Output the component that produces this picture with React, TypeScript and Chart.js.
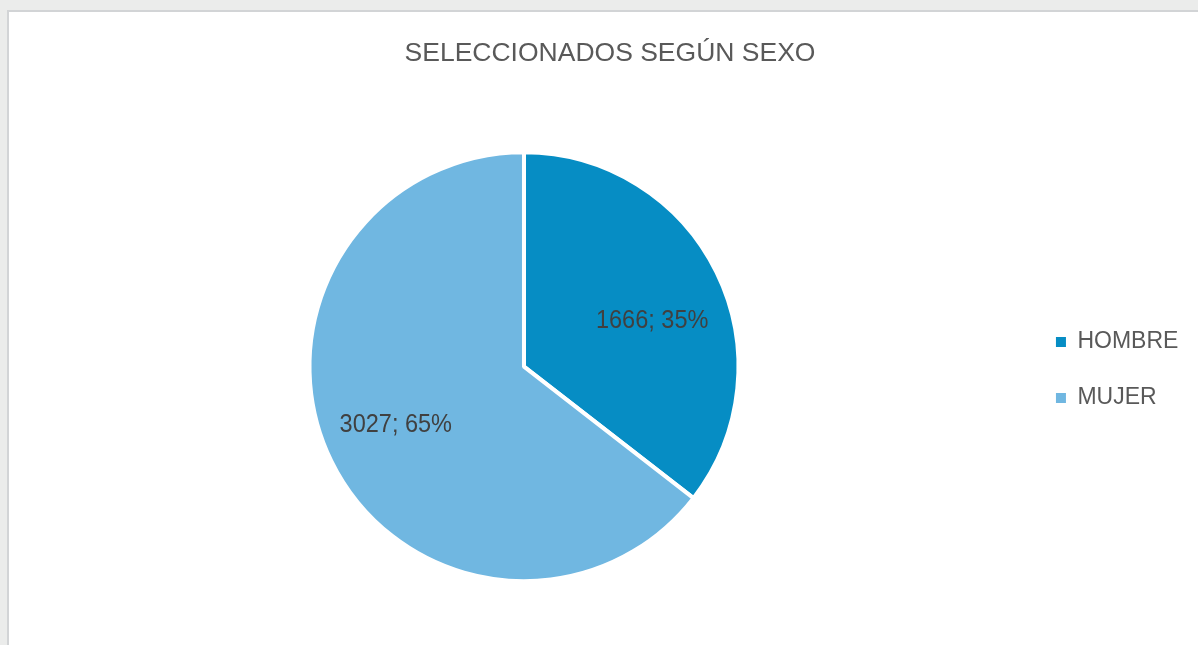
import React, { useEffect, useRef } from 'react';
import { Chart, registerables } from 'chart.js';

Chart.register(...registerables);

const categories = ['HOMBRE', 'MUJER'];
const values = [1666, 3027];
const sliceColors = ['#068dc4', '#70b7e1'];
const chartTitle = 'SELECCIONADOS SEGÚN SEXO';

const FONT = '"Liberation Sans", Arial, sans-serif';
const LABEL_SIZE = 25;

const sliceLabelPlugin = {
  id: 'sliceLabels',
  afterDatasetsDraw(chart: any) {
    const ctx = chart.ctx;
    const meta = chart.getDatasetMeta(0);
    const data = chart.data.datasets[0].data as number[];
    const total = data.reduce((a: number, b: number) => a + b, 0);
    ctx.save();
    ctx.fillStyle = '#404040';
    ctx.font = `${LABEL_SIZE}px ${FONT}`;
    ctx.textAlign = 'center';
    ctx.textBaseline = 'middle';
    meta.data.forEach((arc: any, i: number) => {
      const p = arc.getProps(['x', 'y', 'startAngle', 'endAngle', 'outerRadius'], true);
      const mid = (p.startAngle + p.endAngle) / 2 + (4 * Math.PI) / 180;
      const r = p.outerRadius * 0.645;
      const lx = p.x + Math.cos(mid) * r;
      const ly = p.y + Math.sin(mid) * r + LABEL_SIZE * 0.26;
      const text = `${data[i]}; ${Math.round((data[i] / total) * 100)}%`;
      ctx.save();
      ctx.translate(lx, ly);
      ctx.scale(0.94, 1);
      ctx.fillText(text, 0, 0);
      ctx.restore();
    });
    ctx.restore();
  },
};

export default function App() {
  const canvasRef = useRef<HTMLCanvasElement | null>(null);

  useEffect(() => {
    if (!canvasRef.current) return;
    const chart = new Chart(canvasRef.current, {
      type: 'pie',
      data: {
        labels: categories,
        datasets: [
          {
            data: values,
            backgroundColor: sliceColors,
            borderColor: '#ffffff',
            borderWidth: 4,
            hoverOffset: 0,
          },
        ],
      },
      options: {
        responsive: false,
        animation: false,
        events: [],
        layout: {
          padding: { left: 31.6, right: 9.6, top: 0, bottom: 61.8 },
        },
        plugins: {
          tooltip: { enabled: false },
          title: {
            display: true,
            text: chartTitle,
            color: '#595959',
            font: { family: FONT, size: 26.5, weight: 'normal', lineHeight: 1.2 },
            padding: { top: 37.9, bottom: 80.5 },
          },
          legend: {
            display: true,
            position: 'right',
            align: 'center',
            fullSize: false,
            labels: {
              color: '#595959',
              boxWidth: 10,
              boxHeight: 10,
              padding: 39.6,
              font: { family: FONT, size: 23, lineHeight: '16.4px' },
              generateLabels(chart: any) {
                const base = (Chart as any).overrides.doughnut.plugins.legend.labels.generateLabels(chart);
                return base.map((l: any) => ({ ...l, text: [l.text], lineWidth: 0 }));
              },
            },
          },
        },
      } as any,
      plugins: [sliceLabelPlugin],
    });
    return () => chart.destroy();
  }, []);

  return (
    <div style={{ position: 'fixed', left: 0, top: 0, width: 1198, height: 645, background: '#ebeceb', overflow: 'hidden' }}>
      <div
        style={{
          position: 'absolute',
          left: 7,
          top: 10,
          right: 0,
          bottom: 0,
          background: '#ffffff',
          borderTop: '2px solid #d2d4d6',
          borderLeft: '2px solid #d2d4d6',
        }}
      />
      <canvas ref={canvasRef} width={1198} height={645} style={{ position: 'absolute', left: 0, top: 0 }} />
    </div>
  );
}
